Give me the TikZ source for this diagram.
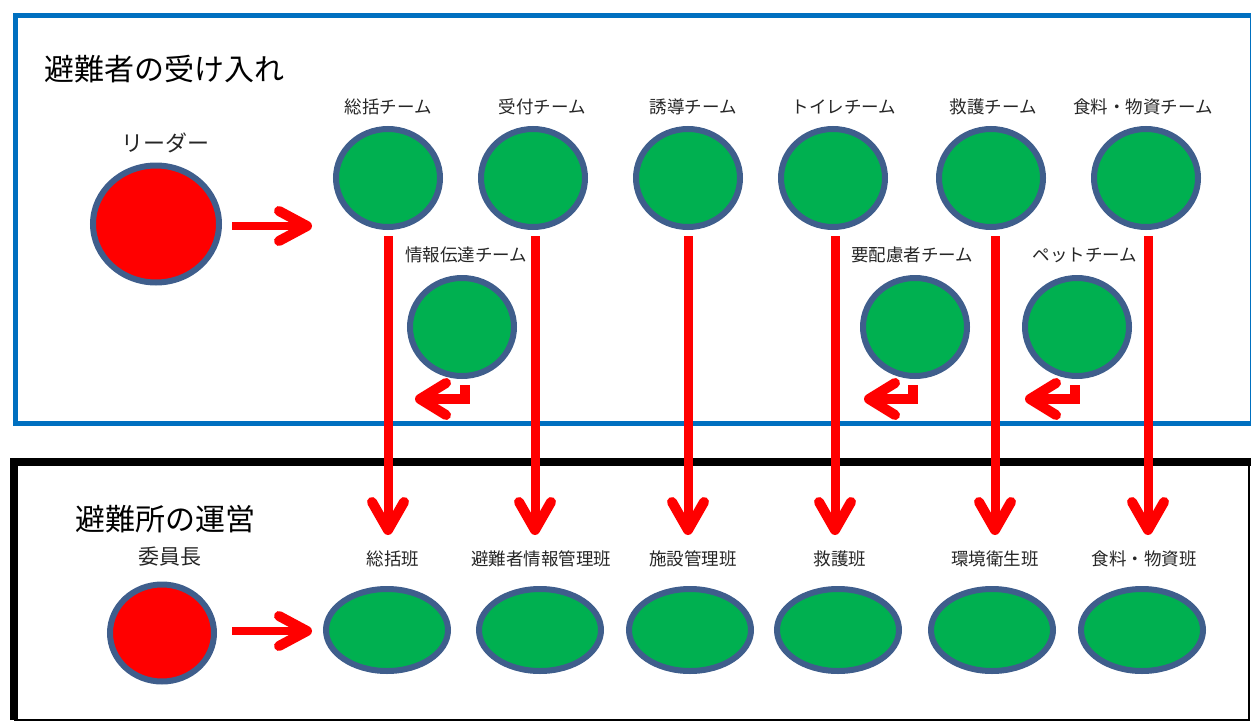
\documentclass[tikz,border=0pt]{standalone}
\usepackage{fontspec}
\setmainfont{Noto Sans CJK JP}
\usetikzlibrary{arrows.meta,shapes.geometric}
\definecolor{boxblue}{HTML}{0070C0}
\definecolor{ringblue}{HTML}{3F5E8C}
\definecolor{teamgreen}{HTML}{00B050}
\definecolor{arrowred}{HTML}{FF0000}
\begin{document}
\begin{tikzpicture}[x=1pt,y=-1pt,
  ring/.style={ellipse, draw=ringblue, line width=6pt, inner sep=0pt},
  team/.style={ring, fill=teamgreen, minimum width=104pt, minimum height=98pt},
  section/.style={ring, fill=teamgreen, minimum width=122pt, minimum height=82pt},
  chief/.style={ring, fill=arrowred},
  lab/.style={font=\fontsize{17.5}{20}\selectfont, inner sep=0pt, text=black!85},
  biglab/.style={font=\fontsize{22}{24}\selectfont, inner sep=0pt, text=black!85},
  title/.style={font=\fontsize{30}{32}\selectfont, inner sep=0pt, anchor=west},
  harrow/.style={draw=arrowred, line width=8pt,
    -{Straight Barb[length=28pt,width=30pt,line width=10pt,line cap=round,line join=round]}},
  varrow/.style={draw=arrowred, line width=9pt,
    -{Straight Barb[length=28pt,width=32pt,line width=10pt,line cap=round,line join=round]}},
  hook/.style={draw=arrowred, line width=10pt, line cap=butt, line join=miter,
    -{Straight Barb[length=26pt,width=32pt,line width=10pt,line cap=round,line join=round]}}
]
\useasboundingbox (0,0) rectangle (1251,723);
% frames
\draw[boxblue, line width=5pt] (15,15) rectangle (1252,423);
\draw[line width=8pt] (14,720) -- (14,462) -- (1251,462);
\draw[line width=2pt] (1249,462) -- (1249,720) -- (14,720);

% titles
\node[title] (title1) at (44,69) {避難者の受け入れ};
\node[title] (title2) at (75,519) {避難所の運営};

% upper part
\node[biglab] (leaderlab) at (165,143) {リーダー};
\node[chief, minimum width=126pt, minimum height=117pt] (leader) at (156,224) {};

\node[team] (t1) at (388,178) {};
\node[team] (t2) at (533,178) {};
\node[team] (t3) at (688,178) {};
\node[team] (t4) at (833,178) {};
\node[team] (t5) at (991,178) {};
\node[team] (t6) at (1146,178) {};
\node[lab] (t1l) at (388,107) {総括チーム};
\node[lab] (t2l) at (542,107) {受付チーム};
\node[lab] (t3l) at (693,107) {誘導チーム};
\node[lab] (t4l) at (844,107) {トイレチーム};
\node[lab] (t5l) at (993,107) {救護チーム};
\node[lab] (t6l) at (1143,107) {食料・物資チーム};

\node[team] (m1) at (462,327) {};
\node[team] (m2) at (915,327) {};
\node[team] (m3) at (1077,327) {};
\node[lab] (m1l) at (466,255) {情報伝達チーム};
\node[lab] (m2l) at (912,255) {要配慮者チーム};
\node[lab] (m3l) at (1085,255) {ペットチーム};

% lower part
\node[font=\fontsize{21}{23}\selectfont, inner sep=0pt, text=black!85] (chieflab) at (170,557) {委員長};
\node[chief, minimum width=104pt, minimum height=97pt] (chief) at (162,633) {};

\node[section] (b1) at (387,630) {};
\node[section] (b2) at (540,630) {};
\node[section] (b3) at (690,630) {};
\node[section] (b4) at (838,630) {};
\node[section] (b5) at (992,630) {};
\node[section] (b6) at (1142,630) {};
\node[lab] (b1l) at (393,559) {総括班};
\node[lab] (b2l) at (541,559) {避難者情報管理班};
\node[lab] (b3l) at (693,559) {施設管理班};
\node[lab] (b4l) at (840,559) {救護班};
\node[lab] (b5l) at (995,559) {環境衛生班};
\node[lab] (b6l) at (1144,559) {食料・物資班};

% connectors
\coordinate (hs1) at (232,226); \coordinate (he1) at (312,226);
\coordinate (hs2) at (232,631); \coordinate (he2) at (312,631);
\draw[harrow] (hs1) -- (he1);
\draw[harrow] (hs2) -- (he2);

\coordinate (v1s) at (388,236);  \coordinate (v1e) at (388,535);
\coordinate (v2s) at (535,236);  \coordinate (v2e) at (535,535);
\coordinate (v3s) at (688,236);  \coordinate (v3e) at (688,535);
\coordinate (v4s) at (835,236);  \coordinate (v4e) at (835,535);
\coordinate (v5s) at (995,236);  \coordinate (v5e) at (995,535);
\coordinate (v6s) at (1148,236); \coordinate (v6e) at (1148,535);
\foreach \i in {1,...,6} {\draw[varrow] (v\i s) -- (v\i e);}

\coordinate (k1s) at (465,385); \coordinate (k1e) at (415,399);
\coordinate (k2s) at (913,385); \coordinate (k2e) at (864,399);
\coordinate (k3s) at (1075,385); \coordinate (k3e) at (1025,399);
\foreach \i in {1,2,3} {\draw[hook] (k\i s) |- (k\i e);}
\end{tikzpicture}
\end{document}
